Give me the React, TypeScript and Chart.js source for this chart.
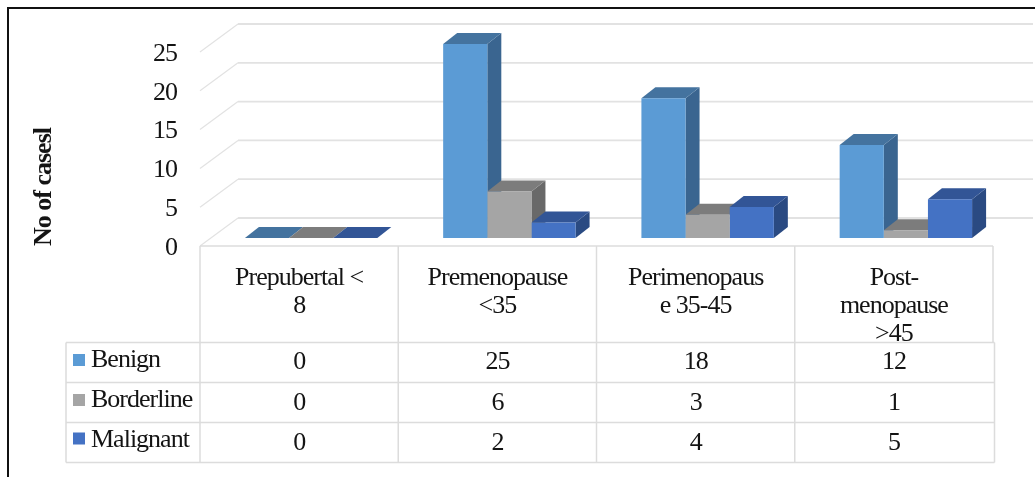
import React, { useEffect, useRef } from "react";
import { Chart, registerables } from "chart.js";

Chart.register(...registerables);

const categoryLines = [
  ["Prepubertal <", "8"],
  ["Premenopause", "<35"],
  ["Perimenopaus", "e 35-45"],
  ["Post-", "menopause", ">45"],
];
const benign = [0, 25, 18, 12];
const borderline = [0, 6, 3, 1];
const malignant = [0, 2, 4, 5];
const seriesNames = ["Benign", "Borderline", "Malignant"];
const frontColors = ["#5B9BD5", "#A5A5A5", "#4472C4"];
const topColors = ["#44739F", "#7C7C7C", "#325596"];
const sideColors = ["#3A6590", "#696969", "#2A4A82"];
const yTicks = [0, 5, 10, 15, 20, 25];
const yTitle = "No of casesl";

const SERIF = '"Liberation Serif", "Times New Roman", serif';
const INK = "#141414";
const DEPTH_X = 14;
const DEPTH_Y = 11;
const WALL_SHIFT_X = 26;
const WALL_SHIFT_Y = 20;
const FLOOR_DROP = 8;
const TABLE_INSET = 12;
const TABLE_ROWS = [246, 342.5, 382.5, 422.5, 462.5];
const TABLE_LEFT = 66;
const VALUE_BASELINES = [369, 410, 450];
const LEGEND_BASELINES = [366.5, 406.5, 447];
const KEY_TOPS = [354, 394, 432.5];
const GRID = "#E2E2E2";
const RULE = "#DCDCDC";

const poly = (ctx: CanvasRenderingContext2D, color: string, pts: number[][]) => {
  ctx.fillStyle = color;
  ctx.beginPath();
  pts.forEach(([x, y], i) => (i ? ctx.lineTo(x, y) : ctx.moveTo(x, y)));
  ctx.closePath();
  ctx.fill();
};

// Tightens the serif text so it runs tall and narrow.
const textPlugin = {
  id: "tightText",
  beforeDraw(chart: any) {
    chart.ctx.letterSpacing = "-1px";
  },
};

// Receding wall gridlines plus the side and top faces of each bar.
const depthPlugin = {
  id: "depth",
  beforeDatasetsDraw(chart: any) {
    const { ctx, scales } = chart;
    const y = scales.y;
    const floorLeft = scales.x.left - TABLE_INSET;
    const wallLeft = floorLeft + WALL_SHIFT_X + TABLE_INSET;
    const wallRight = scales.x.right + 28;
    ctx.save();
    ctx.strokeStyle = GRID;
    yTicks.forEach((v) => {
      const p = y.getPixelForValue(v);
      ctx.lineWidth = 1.2;
      ctx.beginPath();
      ctx.moveTo(floorLeft, p + FLOOR_DROP);
      ctx.lineTo(wallLeft, p - WALL_SHIFT_Y);
      ctx.stroke();
      ctx.lineWidth = 1.8;
      ctx.beginPath();
      ctx.moveTo(wallLeft, p - WALL_SHIFT_Y);
      ctx.lineTo(wallRight, p - WALL_SHIFT_Y);
      ctx.stroke();
    });
    chart.data.datasets.forEach((_: any, d: number) => {
      chart.getDatasetMeta(d).data.forEach((bar: any) => {
        const half = bar.width / 2;
        const l = bar.x - half;
        const r = bar.x + half;
        poly(ctx, sideColors[d], [
          [r, bar.y],
          [r + DEPTH_X, bar.y - DEPTH_Y],
          [r + DEPTH_X, bar.base - DEPTH_Y],
          [r, bar.base],
        ]);
        poly(ctx, topColors[d], [
          [l, bar.y],
          [l + DEPTH_X, bar.y - DEPTH_Y],
          [r + DEPTH_X, bar.y - DEPTH_Y],
          [r, bar.y],
        ]);
      });
    });
    ctx.restore();
  },
};

// Outer frame, rotated axis title and the data table below the plot.
const tablePlugin = {
  id: "dataTable",
  afterDraw(chart: any) {
    const { ctx, scales } = chart;
    const x = scales.x;
    const step = (x.right - x.left) / categoryLines.length;
    const colX = categoryLines.map((_, i) => x.left - TABLE_INSET + i * step);
    const tableRight = x.right - TABLE_INSET;
    const [top, headBottom] = TABLE_ROWS;
    const bottom = TABLE_ROWS[TABLE_ROWS.length - 1];

    ctx.save();
    ctx.strokeStyle = RULE;
    ctx.lineWidth = 1.5;
    TABLE_ROWS.forEach((r, i) => {
      ctx.beginPath();
      ctx.moveTo(i === 0 ? colX[0] : TABLE_LEFT, r);
      ctx.lineTo(tableRight + (i === 0 ? 0 : 1.5), r);
      ctx.stroke();
    });
    colX.forEach((c) => {
      ctx.beginPath();
      ctx.moveTo(c, top);
      ctx.lineTo(c, bottom);
      ctx.stroke();
    });
    ctx.beginPath();
    ctx.moveTo(tableRight, top);
    ctx.lineTo(tableRight, headBottom);
    ctx.moveTo(tableRight + 1.5, headBottom);
    ctx.lineTo(tableRight + 1.5, bottom);
    ctx.moveTo(TABLE_LEFT, headBottom);
    ctx.lineTo(TABLE_LEFT, bottom);
    ctx.stroke();

    ctx.fillStyle = INK;
    ctx.font = `26px ${SERIF}`;
    ctx.letterSpacing = "-1px";
    ctx.textAlign = "center";
    ctx.textBaseline = "alphabetic";
    categoryLines.forEach((lines, i) => {
      const cx = colX[i] + step / 2;
      lines.forEach((line, j) => ctx.fillText(line, cx, 285 + j * 28));
    });

    [benign, borderline, malignant].forEach((vals, r) => {
      ctx.textAlign = "center";
      ctx.fillStyle = INK;
      vals.forEach((v, i) => ctx.fillText(String(v), colX[i] + step / 2, VALUE_BASELINES[r]));
      ctx.textAlign = "left";
      ctx.fillText(seriesNames[r], 91, LEGEND_BASELINES[r]);
      ctx.fillStyle = frontColors[r];
      ctx.fillRect(73, KEY_TOPS[r], 12, 12);
    });

    ctx.save();
    ctx.translate(51, 246);
    ctx.rotate(-Math.PI / 2);
    ctx.textAlign = "left";
    ctx.fillStyle = INK;
    ctx.font = `bold 26px ${SERIF}`;
    ctx.fillText(yTitle, 0, 0);
    ctx.restore();

    ctx.strokeStyle = "#111";
    ctx.lineWidth = 2;
    ctx.beginPath();
    ctx.moveTo(8, 477);
    ctx.lineTo(8, 8);
    ctx.lineTo(1035, 8);
    ctx.stroke();
    ctx.restore();
  },
};

export default function App() {
  const ref = useRef<HTMLCanvasElement>(null);
  useEffect(() => {
    const chart = new Chart(ref.current as HTMLCanvasElement, {
      type: "bar",
      data: {
        labels: categoryLines.map((l) => l.join(" ")),
        datasets: [benign, borderline, malignant].map((data, i) => ({
          label: seriesNames[i],
          data,
          backgroundColor: frontColors[i],
          borderWidth: 0,
          barPercentage: 1,
          categoryPercentage: 0.668,
        })),
      },
      options: {
        responsive: false,
        animation: false,
        layout: { padding: { left: 0, right: 30, top: 44, bottom: 239 } },
        plugins: { legend: { display: false }, tooltip: { enabled: false } },
        scales: {
          x: { display: false },
          y: {
            min: 0,
            max: 25,
            afterFit: (s: any) => {
              s.width = 212;
              s.paddingTop = 0;
              s.paddingBottom = 0;
            },
            border: { display: false },
            grid: { display: false, drawTicks: false },
            ticks: {
              stepSize: 5,
              padding: 35,
              labelOffset: 10,
              color: INK,
              font: { family: SERIF, size: 26 },
            },
          },
        },
      },
      plugins: [textPlugin, depthPlugin, tablePlugin],
    });
    return () => chart.destroy();
  }, []);
  return (
    <canvas
      ref={ref}
      width={1035}
      height={477}
      style={{ position: "fixed", left: 0, top: 0, display: "block", background: "#fff" }}
    />
  );
}
